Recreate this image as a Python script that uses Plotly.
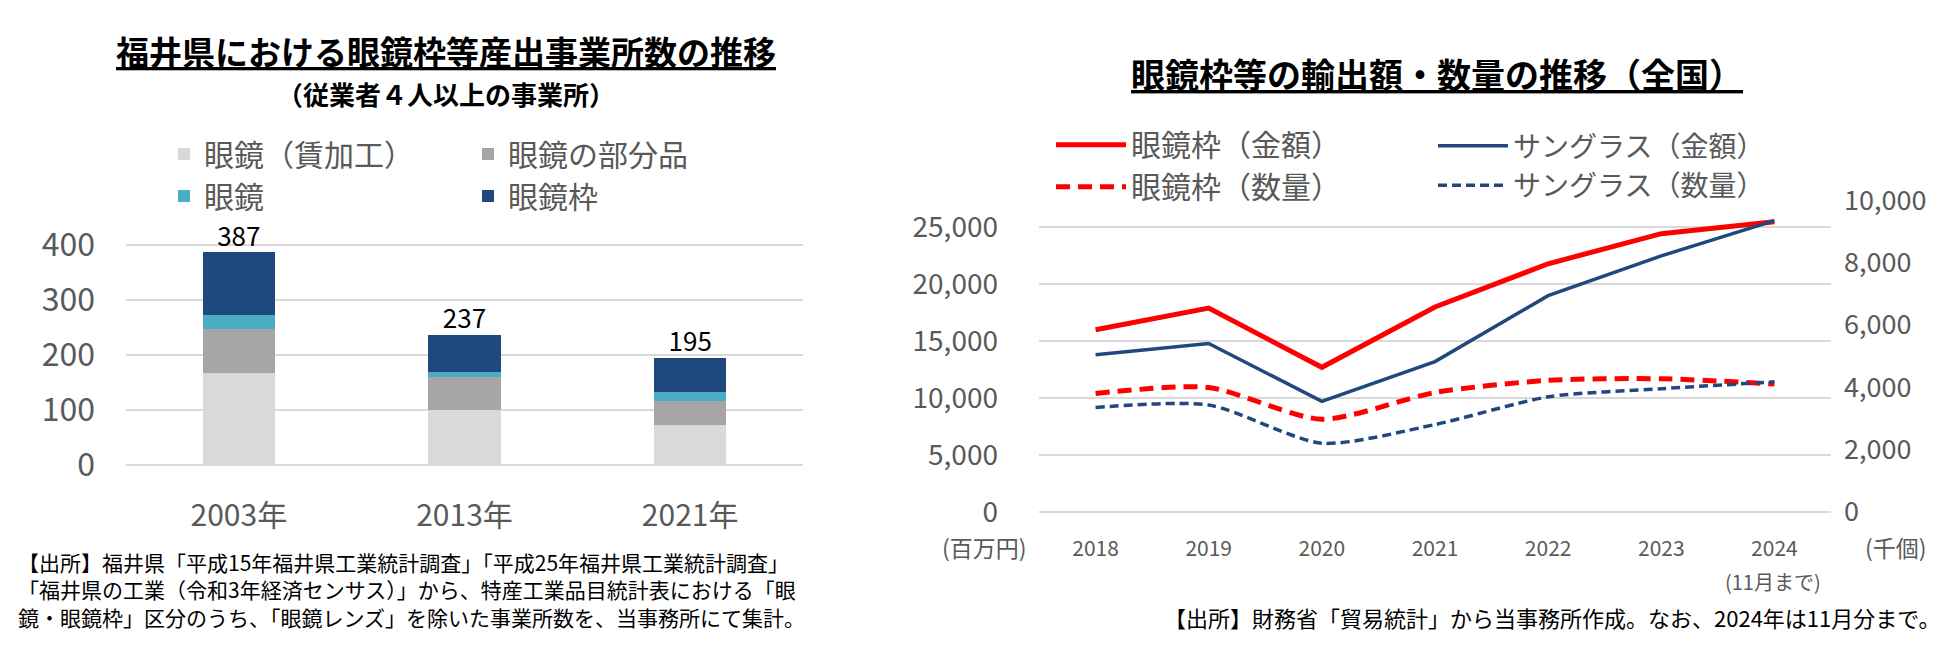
import plotly.graph_objects as go

W, H = 1950, 651
FONT = "Noto Sans CJK JP"
GRAY_TXT = "#595959"
GRID = "#D9D9D9"
NAVY = "#1F497D"
RED = "#FF0000"


def fx(x):
    return x / W


def fy(y):
    return 1 - y / H


# ── left chart: 事業所数 ───────────────────────────────────────────
years_left = ["2003年", "2013年", "2021年"]
chin_kakou = [167, 100, 73]   # 眼鏡（賃加工）
buhin = [81, 61, 43]          # 眼鏡の部分品
megane = [25, 9, 17]          # 眼鏡
waku = [114, 67, 62]          # 眼鏡枠
totals = [387, 237, 195]

# ── right chart: 輸出額・数量 ──────────────────────────────────────
years_right = ["2018", "2019", "2020", "2021", "2022", "2023", "2024"]
frame_value = [16000, 17900, 12700, 18000, 21800, 24450, 25500]   # 百万円
sun_value = [13800, 14800, 9700, 13200, 19000, 22500, 25600]      # 百万円
frame_qty = [3800, 3990, 2970, 3830, 4220, 4270, 4100]            # 千個
sun_qty = [3350, 3430, 2200, 2800, 3690, 3950, 4170]              # 千個

fig = go.Figure()

bar_specs = [
    ("眼鏡（賃加工）", chin_kakou, "#D9D9D9", "legend"),
    ("眼鏡の部分品", buhin, "#A6A6A6", "legend2"),
    ("眼鏡", megane, "#4BACC6", "legend"),
    ("眼鏡枠", waku, NAVY, "legend2"),
]
for name, vals, col, lg in bar_specs:
    fig.add_bar(x=years_left, y=vals, name=name, marker_color=col,
                marker_line_width=0, width=0.32, legend=lg,
                xaxis="x", yaxis="y")

fig.add_scatter(x=years_left, y=totals, text=[str(t) for t in totals],
                mode="text", textposition="top center",
                textfont=dict(size=26, color="#000000", family=FONT),
                cliponaxis=False, showlegend=False, xaxis="x", yaxis="y")

line_specs = [
    ("眼鏡枠（金額）", frame_value, RED, 5, "solid", "linear", "y2", "legend3"),
    ("眼鏡枠（数量）", frame_qty, RED, 5, "14px,8px", "spline", "y3", "legend3"),
    ("サングラス（金額）", sun_value, NAVY, 3.5, "solid", "linear", "y2", "legend4"),
    ("サングラス（数量）", sun_qty, NAVY, 3.5, "9px,5px", "spline", "y3", "legend4"),
]
for name, vals, col, lw, dash, shape, ya, lg in line_specs:
    fig.add_scatter(x=years_right, y=vals, name=name, mode="lines",
                    line=dict(color=col, width=lw, dash=dash, shape=shape,
                              smoothing=0.7),
                    legend=lg, xaxis="x2", yaxis=ya)

tick_font = dict(family=FONT, color=GRAY_TXT)
legend_base = dict(orientation="v", xanchor="left", yanchor="middle",
                   traceorder="normal", bgcolor="rgba(0,0,0,0)")


def legend_font(size):
    return dict(family=FONT, size=size, color=GRAY_TXT)


fig.update_layout(
    width=W, height=H, autosize=False,
    margin=dict(l=0, r=0, t=0, b=0),
    paper_bgcolor="white", plot_bgcolor="white",
    font=dict(family=FONT),
    barmode="stack",
    xaxis=dict(domain=[fx(118), fx(795)], type="category", showgrid=False,
               showline=False, ticks="", ticklabelstandoff=30,
               tickfont=dict(size=30, **tick_font)),
    yaxis=dict(domain=[fy(465), fy(465 - 420 * 0.5875)], range=[0, 420],
               tickvals=[0, 100, 200, 300, 400], showgrid=True,
               gridcolor=GRID, gridwidth=2, zeroline=True,
               zerolinecolor=GRID, zerolinewidth=2, showline=False,
               ticks="", ticklabelstandoff=30,
               tickfont=dict(size=32, **tick_font)),
    xaxis2=dict(domain=[fx(1031), fx(1823)], anchor="y2", type="category",
                range=[-0.5, 6.5], showgrid=False, showline=False, ticks="",
                ticklabelstandoff=22, tickfont=dict(size=21, **tick_font)),
    yaxis2=dict(domain=[fy(515), fy(182)], anchor="x2", range=[0, 27385],
                tickvals=[0, 5000, 10000, 15000, 20000, 25000],
                tickformat=",", showgrid=True, gridcolor=GRID, gridwidth=2,
                zeroline=True, zerolinecolor=GRID, zerolinewidth=2,
                showline=False, ticks="", ticklabelstandoff=40,
                tickfont=dict(size=28, **tick_font)),
    yaxis3=dict(domain=[fy(515), fy(182)], anchor="x2", overlaying="y2",
                side="right", range=[0, 10000],
                tickvals=[0, 2000, 4000, 6000, 8000, 10000],
                tickformat=",", showgrid=False, zeroline=False,
                showline=False, ticks="", ticklabelstandoff=12,
                tickfont=dict(size=27, **tick_font)),
    legend=dict(legend_base, x=fx(156), y=fy(155), font=legend_font(30)),
    legend2=dict(legend_base, x=fx(460), y=fy(155), font=legend_font(30)),
    legend3=dict(legend_base, x=fx(1043), y=fy(145), itemwidth=70,
                 font=legend_font(30)),
    legend4=dict(legend_base, x=fx(1425), y=fy(145), itemwidth=70,
                 font=legend_font(28)),
)

notes_left = [
    "【出所】福井県「平成15年福井県工業統計調査」「平成25年福井県工業統計調査」",
    "「福井県の工業（令和3年経済センサス）」から、特産工業品目統計表における「眼",
    "鏡・眼鏡枠」区分のうち、「眼鏡レンズ」を除いた事業所数を、当事務所にて集計。",
]
note_right = "【出所】財務省「貿易統計」から当事務所作成。なお、2024年は11月分まで。"

ann = [
    dict(text="<b><u>福井県における眼鏡枠等産出事業所数の推移</u></b>",
         x=fx(438), y=fy(22), font=dict(size=33, color="#000000")),
    dict(text="<b>（従業者４人以上の事業所）</b>",
         x=fx(438), y=fy(68), font=dict(size=26, color="#000000")),
    dict(text="<b><u>眼鏡枠等の輸出額・数量の推移（全国）</u></b>",
         x=fx(1429), y=fy(47), font=dict(size=34, color="#000000")),
    dict(text="(百万円)", x=fx(976), y=fy(553),
         font=dict(size=23, color=GRAY_TXT)),
    dict(text="(千個)", x=fx(1888), y=fy(553),
         font=dict(size=23, color=GRAY_TXT)),
    dict(text="(11月まで)", x=fx(1765), y=fy(590),
         font=dict(size=20, color=GRAY_TXT)),
    dict(text=note_right, x=fx(1934), y=fy(628), xanchor="right",
         font=dict(size=22, color="#000000")),
    dict(text="<br>".join(notes_left), x=fx(8), y=fy(598), xanchor="left",
         align="left", font=dict(size=21, color="#000000")),
]

for a in ann:
    a.setdefault("xanchor", "center")
    a.update(xref="paper", yref="paper", yanchor="middle", showarrow=False)
    a["font"]["family"] = FONT
fig.update_layout(annotations=ann)

fig.write_html("out.html")
